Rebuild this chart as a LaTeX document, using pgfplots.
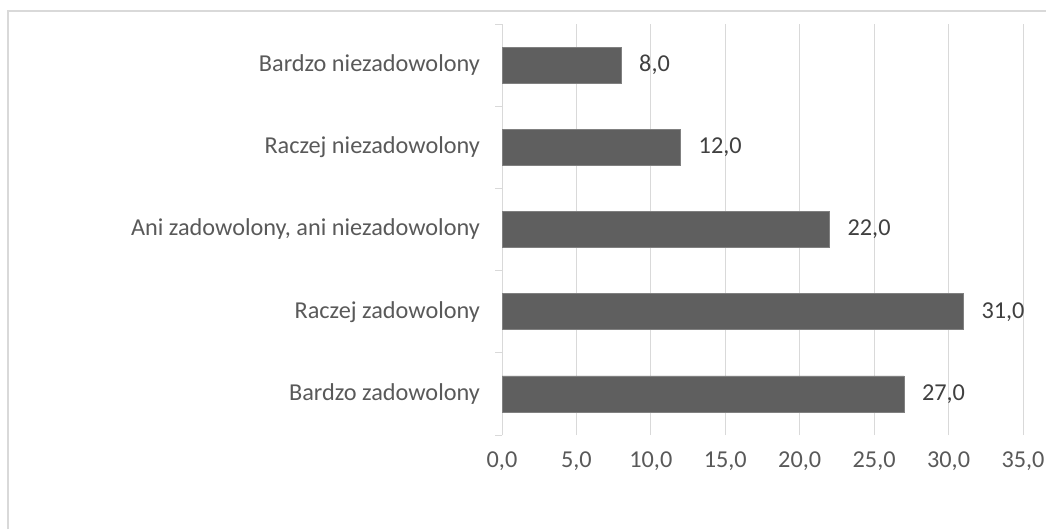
\documentclass[border=0pt]{standalone}
\usepackage{fontspec}
\setmainfont{Carlito}
\usepackage{pgfplots}
\pgfplotsset{compat=1.18}
\definecolor{gridc}{HTML}{D9D9D9}
\definecolor{barc}{HTML}{5F5F5F}
\definecolor{bare}{HTML}{808080}
\definecolor{txt}{HTML}{595959}
\definecolor{lbl}{HTML}{404040}
\pgfplotsset{/pgf/number format/.cd, fixed, fixed zerofill, precision=1, use comma, assume math mode=true}
\begin{document}
\begin{tikzpicture}
\useasboundingbox (0,0) rectangle (784.5pt,396.75pt);
\draw[gridc, line width=1.2pt] (6pt,0) -- (6pt,388.5pt) -- (784.5pt,388.5pt);
\begin{axis}[
  at={(376.5pt,70.5pt)}, anchor=south west,
  scale only axis, width=390.75pt, height=308.25pt,
  xbar, bar width=27pt,
  xmin=0, xmax=35, xtick={0,5,...,35},
  ymin=-0.5, ymax=4.5, ytick={0,...,4},
  yticklabels={Bardzo zadowolony, Raczej zadowolony, {Ani zadowolony, ani niezadowolony}, Raczej niezadowolony, Bardzo niezadowolony},
  minor ytick={-0.5,0.5,...,4.5},
  major tick length=0pt, minor tick length=5.25pt, tick align=outside,
  tick style={gridc, line width=0.75pt},
  xmajorgrids, grid style={gridc, line width=0.75pt},
  axis y line*=left, axis x line*=bottom,
  x axis line style={draw=none},
  y axis line style={gridc, line width=0.75pt, -},
  xticklabel style={font=\fontsize{18.2}{21}\selectfont, text=txt, yshift=-9pt},
  yticklabel style={font=\fontsize{18.2}{21}\selectfont, text=txt, xshift=-13pt},
  nodes near coords,
  nodes near coords style={anchor=west, xshift=10pt, font=\fontsize{18.2}{21}\selectfont, text=lbl},
]
\addplot[fill=barc, draw=bare, line width=0.5pt] coordinates {(27,0) (31,1) (22,2) (12,3) (8,4)};
\end{axis}
\end{tikzpicture}
\end{document}
